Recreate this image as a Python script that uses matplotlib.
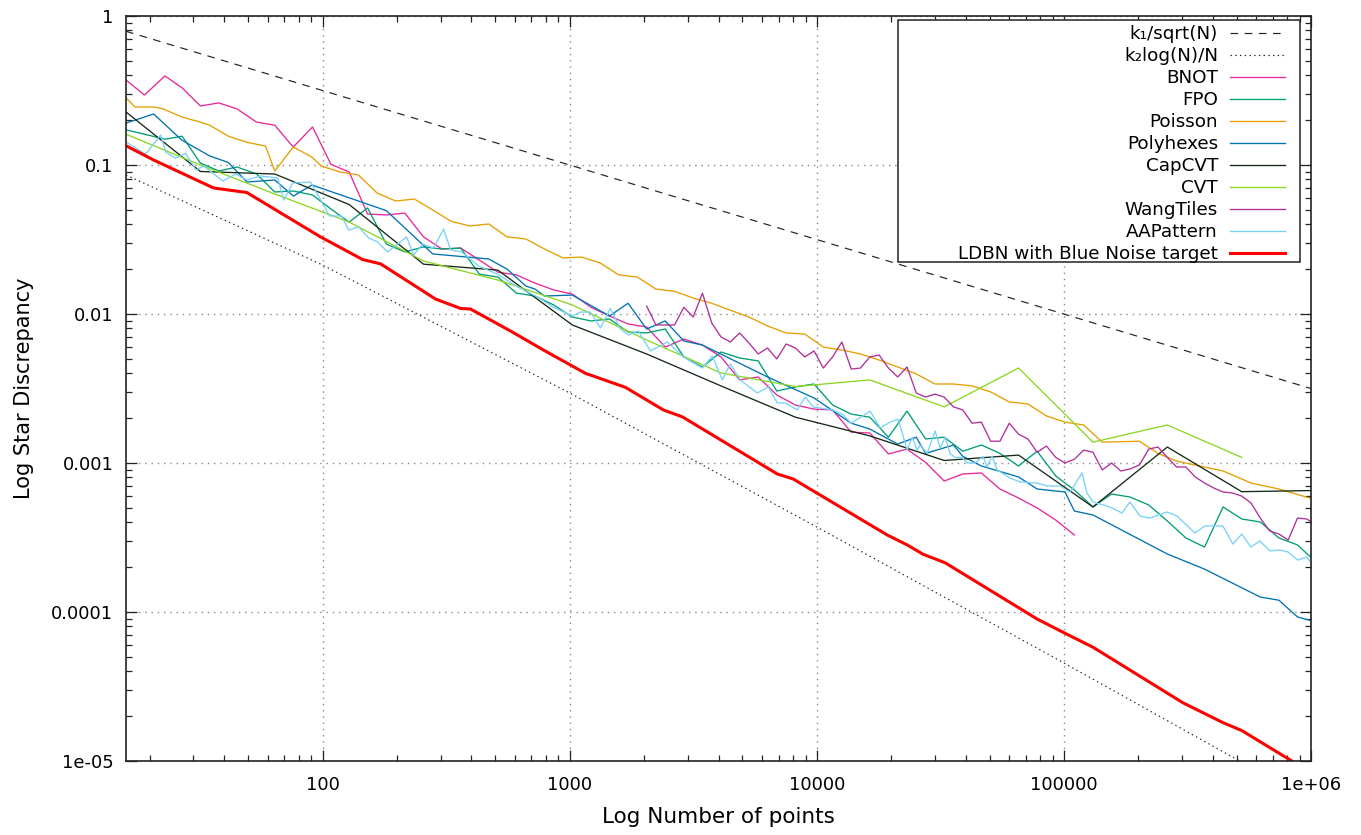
import matplotlib
matplotlib.use('Agg')
import matplotlib.pyplot as plt
from matplotlib.ticker import FixedLocator, FixedFormatter, LogLocator, NullFormatter
from matplotlib.patches import Rectangle

plt.rcParams['font.family'] = ['DejaVu Sans']

# ---------------- data ----------------
X_TICKS = [100, 1000, 10000, 100000, 1000000]
X_TICK_LABELS = ['100', '1000', '10000', '100000', '1e+06']
Y_TICKS = [1, 0.1, 0.01, 0.001, 0.0001, 0.00001]
Y_TICK_LABELS = ['1', '0.1', '0.01', '0.001', '0.0001', '1e-05']

K1_N = [16, 1000000]
K1_D = [0.79, 0.00316]

K2_N = [16, 100, 1000, 10000, 100000, 1000000]
K2_D = [0.0857, 0.0213, 0.00295, 0.000372, 0.0000455, 0.0000054]

BNOT_N = [16, 19, 23, 27, 32, 38, 45, 54, 64, 76, 91, 108, 128, 152, 181, 215,
          256, 304, 362, 431, 512, 609, 724, 861, 1024, 1218, 1448, 1722, 2048,
          2435, 2896, 3444, 4096, 4871, 5793, 6889, 8192, 9742, 11585, 13777,
          16384, 19484, 23170, 27554, 32768, 38968, 46341, 55109, 65536, 77936,
          92682, 110218]
BNOT_D = [.372, .295, .396, .329, .249, .261, .238, .194, .185, .132, .180, .101,
          .0898, .0469, .0462, .0476, .0329, .0273, .0277, .0230, .0191, .0183,
          .0161, .0145, .0136, .0111, .00970, .00857, .00818, .00600, .00679,
          .00619, .00515, .00361, .00378, .00286, .00245, .00230, .00227, .00161,
          .00159, .00115, .00124, .00101, .000757, .000844, .000857, .000669,
          .000582, .000499, .000414, .000329]

FPO_N = [16, 19, 23, 27, 32, 38, 45, 54, 64, 76, 91, 108, 128, 152, 181, 215,
         256, 304, 362, 431, 512, 609, 724, 861, 1024, 1218, 1448, 1722, 2048,
         2435, 2896, 3444, 4096, 4871, 5793, 6889, 8192, 9742, 11585, 13777,
         16384, 19484, 23170, 27554, 32768, 38968, 46341, 55109, 65536, 77936,
         92682, 110218, 131072, 155872, 185364, 220436, 262144, 311744, 370728,
         440872, 524288, 623487, 741455, 881744, 1048576]
FPO_D = [.172, .161, .149, .156, .103, .0912, .0970, .0870, .0659, .0669, .0629,
         .0507, .0414, .0515, .0295, .0261, .0282, .0273, .0277, .0185, .0177,
         .0138, .0132, .0115, .00955, .00898, .00926, .00757, .00746, .00793,
         .00515, .00441, .00556, .00507, .00484, .00304, .00324, .00339, .00245,
         .00213, .00203, .00149, .00223, .00145, .00149, .00120, .00132, .00116,
         .000955, .00120, .000818, .000659, .000507, .000619, .000591, .000523,
         .000408, .000314, .000273, .000507, .000421, .000402, .000314, .000282,
         .000216]

POISSON_N = [16, 17.4, 20.7, 22.6, 26.9, 32, 34.9, 41.5, 49.4, 58.7, 64, 76.1,
             90.5, 98.7, 117.4, 139.6, 166, 197.4, 234.8, 279, 332, 395, 470,
             558, 664, 790, 939, 1117, 1328, 1579, 1878, 2233, 2656, 3158, 3756,
             4467, 5312, 6317, 7512, 8933, 10623, 12634, 15024, 17867, 21247,
             25268, 30048, 35734, 42495, 50535, 60097, 71468, 84990, 101070,
             120194, 142935, 202141, 240387, 285870, 370728, 440872, 571740,
             741455, 1048576]
POISSON_D = [.282, .245, .245, .238, .210, .194, .185, .156, .142, .134, .0912,
             .132, .113, .0985, .0898, .0857, .0649, .0573, .0591, .0499, .0418,
             .0390, .0402, .0329, .0319, .0273, .0238, .0241, .0220, .0183, .0177,
             .0147, .0142, .0128, .0118, .0106, .00955, .00831, .00746, .00734,
             .00600, .00573, .00539, .00491, .00441, .00396, .00339, .00339,
             .00329, .00300, .00257, .00249, .00207, .00188, .00180, .00138,
             .00140, .00116, .00103, .000940, .000884, .000734, .000669, .000565]

POLYHEX_N = [16, 20.7, 26.9, 34.9, 41.5, 49.4, 64, 76.1, 90.5, 181, 279, 470,
             558, 664, 724, 790, 1024, 1448, 1722, 2048, 2435, 2896, 3444, 6317,
             9742, 13777, 16384, 21247, 25268, 27554, 35734, 38968, 46341, 65536,
             77936, 101070, 110218, 131072, 262144, 370728, 623487, 741455,
             881744, 1048576]
POLYHEX_D = [.191, .220, .147, .115, .104, .0769, .0793, .0619, .0734, .0494,
             .0253, .0234, .0200, .0154, .0147, .0132, .0134, .00970, .0118,
             .00793, .00898, .00659, .00619, .00378, .00273, .00185, .00169,
             .00134, .00149, .00116, .00132, .00111, .000955, .000806, .000669,
             .000639, .000476, .000448, .000245, .000194, .000126, .000120,
             .0000926, .0000857]

CAPCVT_N = [16, 32, 64, 128, 256, 512, 1024, 2048, 4096, 8192, 16384, 32768,
            65536, 131072, 262144, 524288, 1048576]
CAPCVT_D = [.227, .0905, .0870, .0543, .0216, .0197, .00844, .00539, .00329,
            .00203, .00152, .00104, .00113, .000507, .00128, .000642, .000654]

CVT_N = [16, 32, 64, 128, 256, 512, 1024, 2048, 4096, 8192, 16384, 32768,
         65536, 131072, 262144, 524288]
CVT_D = [.161, .100, .0639, .0414, .0227, .0169, .0115, .00669, .00402, .00326,
         .00361, .00238, .00434, .00138, .00180, .00109]

WANG_N = [2048, 2233, 2435, 2656, 2896, 3158, 3444, 3756, 4096, 4467, 4871, 5312,
          5793, 6317, 6889, 7512, 8192, 8933, 9742, 10623, 11585, 12634, 13777,
          15024, 16384, 17867, 19484, 21247, 23170, 25268, 27554, 30048, 32768,
          35734, 38968, 42495, 46341, 50535, 55109, 60097, 65536, 71468, 77936,
          84990, 92682, 101070, 110218, 120194, 131072, 142935, 155872, 169979,
          185364, 202141, 220436, 240387, 262144, 285870, 311744, 339959,
          370728, 404281, 440872, 480774, 524288, 571740, 623487, 679917,
          741455, 808563, 881744, 961548, 1048576]
WANG_D = [.0113, .00844, .00844, .00844, .0111, .00955, .0138, .00870, .00701,
          .00649, .00746, .00639, .00539, .00591, .00499, .00629, .00591, .00515,
          .00565, .00434, .00515, .00649, .00427, .00434, .00515, .00531, .00434,
          .00378, .00441, .00295, .00277, .00290, .00277, .00238, .00227, .00185,
          .00188, .00140, .00140, .00185, .00156, .00145, .00118, .00130, .00109,
          .00100, .00106, .00122, .00118, .000898, .00100, .000884, .000912,
          .000970, .00124, .00128, .00109, .000940, .000940, .000806, .000734,
          .000679, .000639, .000629, .000600, .000539, .000427, .000350, .000334,
          .000304, .000427, .000421, .000384]

AAP_N = [16.1, 19.2, 22.1, 23.2, 25.4, 27.9, 30.7, 33.0, 39.4, 44.5, 49.3, 56.1,
         65.8, 69.6, 75.6, 89.4, 106.7, 119.4, 127.4, 139.8, 153.5, 166.9, 183.1,
         218.6, 233.3, 253.8, 281.1, 308.6, 329.4, 364.8, 427.4, 510.1, 614.5,
         740.4, 859.5, 1025, 1105, 1213, 1331, 1461, 1603, 1728, 1896, 2120,
         2484, 2883, 3441, 3776, 4145, 4465, 4901, 5741, 6362, 6919, 7452, 8331,
         8977, 9672, 11540, 12670, 13780, 16440, 18050, 19810, 21340, 23210,
         24310, 25470, 26190, 27950, 30120, 31550, 33060, 34630, 36280, 38710,
         40560, 43700, 47090, 48870, 51200, 53640, 60550, 66450, 77850, 85450,
         96450, 105900, 118400, 124000, 131200, 153600, 171800, 185100, 203200,
         222900, 261200, 286700, 338900, 372000, 440000, 482800, 525100, 571000,
         620900, 681500, 747700, 805800, 884500, 961700, 988800]
AAP_D = [.142, .118, .159, .122, .111, .120, .0926, .0985, .0781, .0870, .0793,
         .0844, .0818, .0582, .0757, .0769, .0455, .0455, .0366, .0384, .0324,
         .0304, .0261, .0329, .0249, .0295, .0277, .0372, .0269, .0261, .0210,
         .0185, .0152, .0130, .0111, .00970, .0103, .0103, .00806, .0109, .00793,
         .00723, .00769, .00565, .00649, .00515, .00434, .00523, .00361, .00462,
         .00361, .00295, .00324, .00253, .00253, .00227, .00277, .00238, .00227,
         .00213, .00185, .00223, .00172, .00188, .00197, .00122, .00149, .00122,
         .00132, .00116, .00164, .00126, .00149, .00116, .00109, .00109, .00100,
         .00100, .00111, .000940, .00111, .000898, .000793, .000746, .000734,
         .000701, .000701, .000639, .000857, .000629, .000547, .000507, .000462,
         .000547, .000441, .000427, .000469, .000441, .000339, .000378, .000378,
         .000286, .000334, .000273, .000300, .000257, .000261, .000253, .000223,
         .000234, .000220]

LDBN_N = [16.1, 20.7, 36.2, 49.3, 98.1, 145.1, 171.6, 286.3, 361.4, 396.7, 575.8,
          782.8, 1157, 1680, 2393, 2857, 6919, 8027, 19260, 23210, 26930, 33060,
          77850, 101000, 131200, 303000, 365200, 440000, 525100, 836400, 1000000]
LDBN_D = [.134, .108, .0701, .0654, .0329, .0232, .0217, .0126, .0109, .0108,
          .00769, .00573, .00400, .00322, .00227, .00204, .000844, .000781,
          .000329, .000282, .000244, .000214, .0000898, .0000720, .0000580,
          .0000246, .0000211, .0000181, .0000160, .0000100, .00000844]

LABELS = ['k\u2081/sqrt(N)', 'k\u2082log(N)/N', 'BNOT', 'FPO', 'Poisson', 'Polyhexes',
          'CapCVT', 'CVT', 'WangTiles', 'AAPattern', 'LDBN with Blue Noise target']

# ---------------- figure ----------------
W, H = 1361, 835
fig = plt.figure(figsize=(W / 100, H / 100), dpi=100)
ax = fig.add_axes([126 / W, 1 - 761 / H, (1311 - 126) / W, (761 - 16) / H])
ax.set_xscale('log')
ax.set_yscale('log')

lw = 0.95
ax.plot(K1_N, K1_D, color='#222222', lw=0.85, ls=(0, (6.5, 5.5)), label=LABELS[0])
ax.plot(K2_N, K2_D, color='#222222', lw=0.85, ls=(0, (1.2, 2.8)), label=LABELS[1])
ax.plot(BNOT_N, BNOT_D, color='#e7299b', lw=lw, label=LABELS[2])
ax.plot(FPO_N, FPO_D, color='#009e73', lw=lw, label=LABELS[3])
ax.plot(POISSON_N, POISSON_D, color='#e69f00', lw=lw, label=LABELS[4])
ax.plot(POLYHEX_N, POLYHEX_D, color='#0072b2', lw=lw, label=LABELS[5])
ax.plot(CAPCVT_N, CAPCVT_D, color='#152a15', lw=lw, label=LABELS[6])
ax.plot(CVT_N, CVT_D, color='#8cd622', lw=lw, label=LABELS[7])
ax.plot(WANG_N, WANG_D, color='#b0309a', lw=lw, label=LABELS[8])
ax.plot(AAP_N, AAP_D, color='#78d2f8', lw=lw, label=LABELS[9])
ax.plot(LDBN_N, LDBN_D, color='#ff0000', lw=2.2, label=LABELS[10])

ax.set_xlim(16, 1e6)
ax.set_ylim(1e-5, 1)

ax.xaxis.set_major_locator(FixedLocator(X_TICKS))
ax.xaxis.set_major_formatter(FixedFormatter(X_TICK_LABELS))
ax.yaxis.set_major_locator(FixedLocator(Y_TICKS))
ax.yaxis.set_major_formatter(FixedFormatter(Y_TICK_LABELS))
ax.xaxis.set_minor_locator(LogLocator(base=10, subs=range(2, 10), numticks=20))
ax.yaxis.set_minor_locator(LogLocator(base=10, subs=range(2, 10), numticks=20))
ax.xaxis.set_minor_formatter(NullFormatter())
ax.yaxis.set_minor_formatter(NullFormatter())

ax.tick_params(which='both', direction='in', top=True, right=True, colors='#222222',
               labelcolor='black', labelsize=13)
ax.tick_params(which='major', length=8, width=0.9, pad=9)
ax.tick_params(which='minor', length=4.5, width=0.9)
ax.tick_params(axis='x', which='major', pad=11)

ax.grid(True, which='major', color='#888888', lw=1.0, ls=(0, (1, 3.5)))
for s in ax.spines.values():
    s.set_color('#222222')
    s.set_linewidth(1.2)

ax.set_xlabel('Log Number of points', fontsize=15.5)
ax.set_ylabel('Log Star Discrepancy', fontsize=15)
ax.xaxis.set_label_coords(0.5, -0.062)
ax.yaxis.set_label_coords(-0.078, 0.5)

leg = ax.legend(loc='upper right', bbox_to_anchor=(1285 / W, 1 - 25 / H),
                bbox_transform=fig.transFigure, frameon=False, markerfirst=False,
                fontsize=13.2, handlelength=3.0, handletextpad=0.65,
                labelspacing=0.22, borderpad=0, borderaxespad=0)
leg.set_zorder(6)
box = Rectangle((898 / W, 1 - 262 / H), (1300 - 898) / W, (262 - 20) / H,
                transform=fig.transFigure, fill=True, facecolor='white',
                edgecolor='#222222', lw=1.1, zorder=5)
ax.add_patch(box)

fig.savefig('out.png', dpi=100)
